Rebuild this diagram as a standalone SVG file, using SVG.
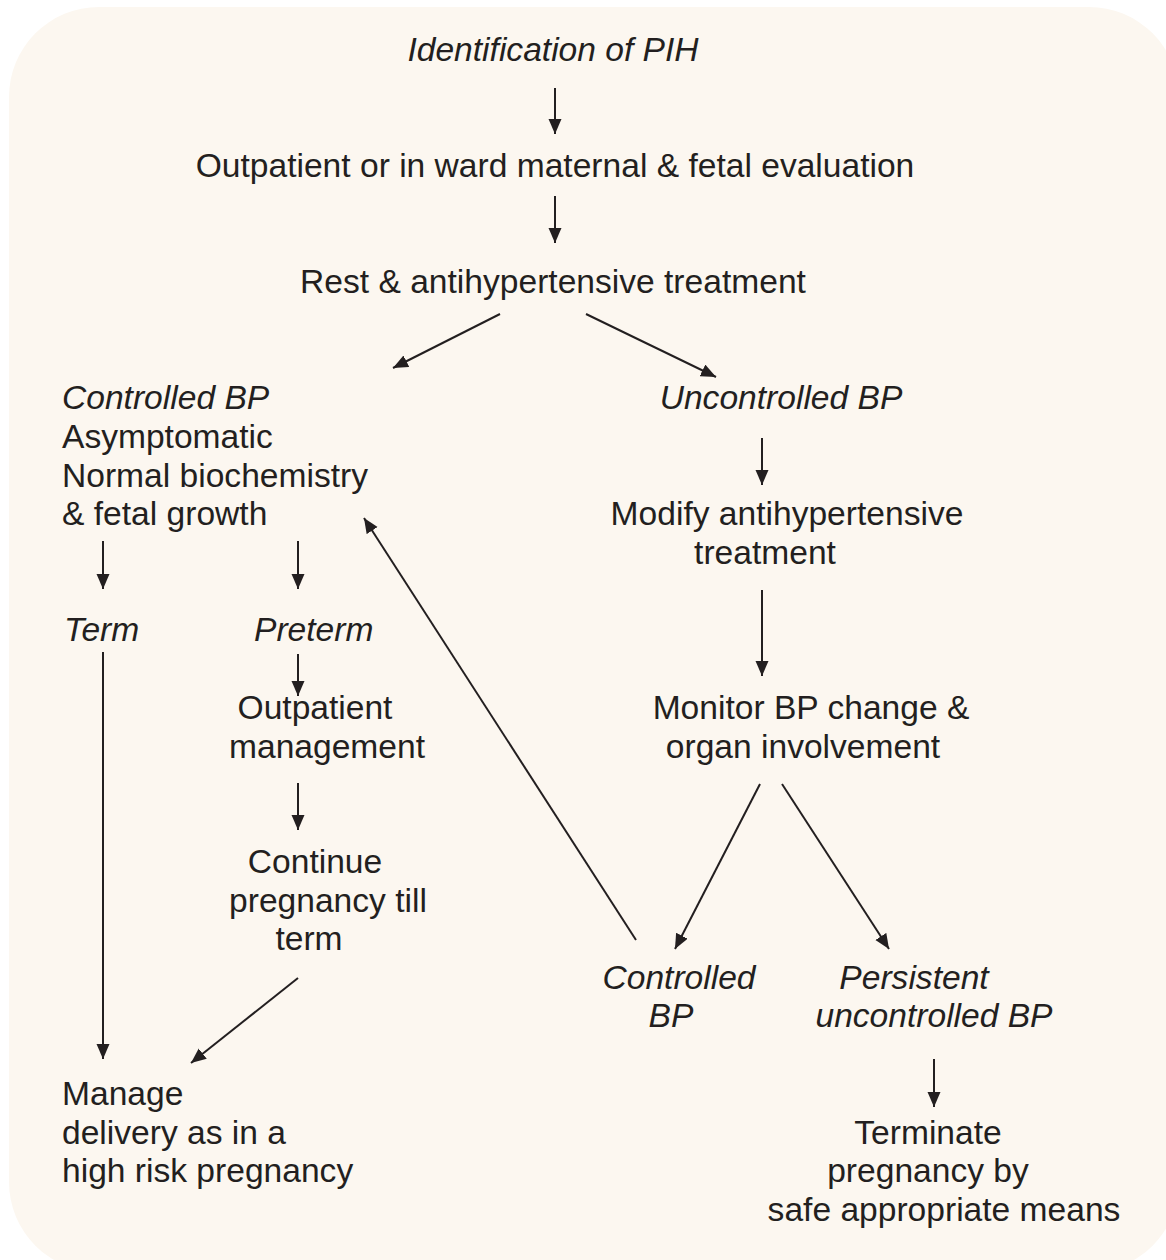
<svg xmlns="http://www.w3.org/2000/svg" width="1166" height="1260" viewBox="0 0 1166 1260">
<defs>
<style>
text{font-family:"Liberation Sans",Arial,sans-serif;font-size:33.6px;fill:#231f20}
.i{font-style:italic}
.m{text-anchor:middle}
.c line{stroke:#231f20;stroke-width:2;marker-end:url(#ah)}
</style>
<marker id="ah" markerUnits="userSpaceOnUse" markerWidth="16" markerHeight="14" refX="15" refY="6.5" orient="auto">
<path d="M0,0 L15,6.5 L0,13 z" fill="#231f20"/>
</marker>
</defs>
<rect width="1166" height="1260" fill="#ffffff"/>
<rect x="9" y="7" width="1170" height="1265" rx="90" fill="#fcf7f0"/>
<g id="n1"><text class="i m" x="553" y="61">Identification of PIH</text></g>
<g id="n2"><text class="m" x="555" y="177">Outpatient or in ward maternal &amp; fetal evaluation</text></g>
<g id="n3"><text class="m" x="553" y="293">Rest &amp; antihypertensive treatment</text></g>
<g id="n4"><text class="i" x="62" y="409">Controlled BP</text><text x="62" y="448">Asymptomatic</text><text x="62" y="487">Normal biochemistry</text><text x="62" y="525">&amp; fetal growth</text></g>
<g id="n5"><text class="i m" x="781" y="409">Uncontrolled BP</text></g>
<g id="n6"><text class="m" x="787" y="525">Modify antihypertensive</text><text class="m" x="765" y="564">treatment</text></g>
<g id="n7"><text class="i" x="64" y="641">Term</text></g>
<g id="n8"><text class="i" x="254" y="641">Preterm</text></g>
<g id="n9"><text class="m" x="315" y="719">Outpatient</text><text class="m" x="327" y="758">management</text></g>
<g id="n10"><text class="m" x="811" y="719">Monitor BP change &amp;</text><text class="m" x="803" y="758">organ involvement</text></g>
<g id="n11"><text class="m" x="315" y="873">Continue</text><text class="m" x="328" y="912">pregnancy till</text><text class="m" x="309" y="950">term</text></g>
<g id="n12"><text class="i m" x="679" y="989">Controlled</text><text class="i m" x="671" y="1027">BP</text></g>
<g id="n13"><text class="i m" x="914" y="989">Persistent</text><text class="i m" x="934" y="1027">uncontrolled BP</text></g>
<g id="n14"><text x="62" y="1105">Manage</text><text x="62" y="1144">delivery as in a</text><text x="62" y="1182">high risk pregnancy</text></g>
<g id="n15"><text class="m" x="928" y="1144">Terminate</text><text class="m" x="928" y="1182">pregnancy by</text><text class="m" x="944" y="1221">safe appropriate means</text></g>
<g id="connectors" class="c">
<line x1="555" y1="88" x2="555" y2="134"/>
<line x1="555" y1="196" x2="555" y2="243"/>
<line x1="500" y1="314" x2="393" y2="368"/>
<line x1="586" y1="314" x2="716" y2="377"/>
<line x1="762" y1="438" x2="762" y2="485"/>
<line x1="103" y1="541" x2="103" y2="589"/>
<line x1="298" y1="541" x2="298" y2="589"/>
<line x1="298" y1="654" x2="298" y2="696"/>
<line x1="298" y1="783" x2="298" y2="830"/>
<line x1="762" y1="590" x2="762" y2="676"/>
<line x1="103" y1="652" x2="103" y2="1059"/>
<line x1="298" y1="978" x2="191" y2="1063"/>
<line x1="636" y1="940" x2="364" y2="518"/>
<line x1="760" y1="784" x2="675" y2="949"/>
<line x1="782" y1="784" x2="889" y2="949"/>
<line x1="934" y1="1059" x2="934" y2="1107"/>
</g>
</svg>
